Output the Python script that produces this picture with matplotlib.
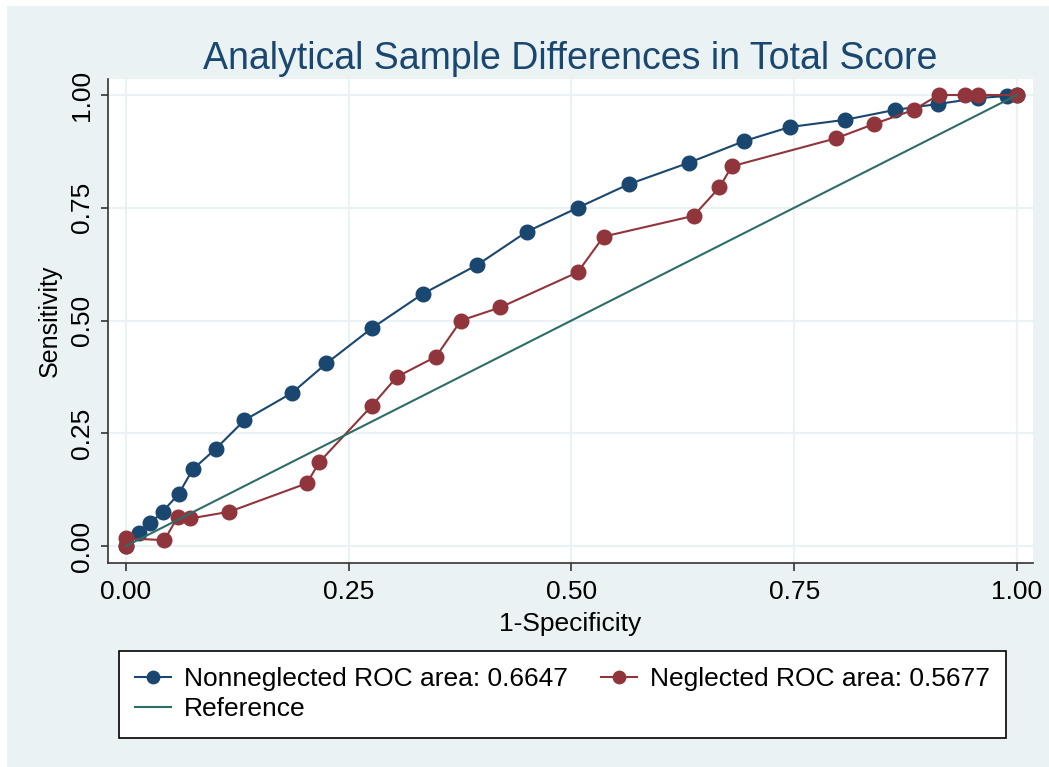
import matplotlib
matplotlib.use('Agg')
import matplotlib.pyplot as plt
from matplotlib.patches import Rectangle

# ROC data
nonneg_fpr = [0.0, 0.015, 0.027, 0.041, 0.059, 0.075, 0.101, 0.133, 0.186, 0.225,
              0.276, 0.333, 0.394, 0.450, 0.507, 0.564, 0.632, 0.694, 0.745, 0.807,
              0.863, 0.911, 0.956, 0.989, 1.0]
nonneg_tpr = [0.0, 0.029, 0.050, 0.076, 0.115, 0.170, 0.216, 0.279, 0.339, 0.405,
              0.483, 0.559, 0.623, 0.697, 0.750, 0.802, 0.850, 0.898, 0.929, 0.945,
              0.967, 0.980, 0.993, 0.998, 1.0]

neg_fpr = [0.0, 0.0, 0.043, 0.058, 0.072, 0.116, 0.203, 0.217, 0.276, 0.304,
           0.348, 0.376, 0.420, 0.507, 0.536, 0.637, 0.666, 0.680, 0.797, 0.840,
           0.884, 0.912, 0.942, 0.956, 1.0]
neg_tpr = [0.0, 0.017, 0.013, 0.064, 0.061, 0.076, 0.139, 0.186, 0.311, 0.375,
           0.420, 0.500, 0.529, 0.607, 0.686, 0.732, 0.795, 0.842, 0.904, 0.936,
           0.967, 1.0, 1.0, 1.0, 1.0]

ref_x = [0.0, 1.0]
ref_y = [0.0, 1.0]

ticks = [0.0, 0.25, 0.5, 0.75, 1.0]
tick_labels = ['0.00', '0.25', '0.50', '0.75', '1.00']

blue = '#1a476f'
red = '#90353b'
green = '#2d6d66'
bg = '#eaf2f3'

plt.rcParams['font.family'] = ['Liberation Sans', 'DejaVu Sans']

fig = plt.figure(figsize=(10.49, 7.67), dpi=100)
fig.patch.set_facecolor(bg)
# white strips at top and left (the source image is a crop)
fig.patches.append(Rectangle((0, 1 - 6 / 767), 1, 6 / 767, transform=fig.transFigure,
                             facecolor='white', edgecolor='none'))
fig.patches.append(Rectangle((0, 0), 7 / 1049, 1, transform=fig.transFigure,
                             facecolor='white', edgecolor='none'))

ax = fig.add_axes([108 / 1049, 1 - 563 / 767, (1033 - 108) / 1049, (563 - 79) / 767])
ax.set_facecolor('white')

ax.plot(nonneg_fpr, nonneg_tpr, color=blue, lw=1.5, marker='o', ms=10.5,
        label='Nonneglected ROC area: 0.6647', zorder=3)
ax.plot(neg_fpr, neg_tpr, color=red, lw=1.5, marker='o', ms=10.5,
        label='Neglected ROC area: 0.5677', zorder=4)
ax.plot(ref_x, ref_y, color=green, lw=1.5, label='Reference', zorder=5)

ax.set_xlim(-0.0202, 1.018)
ax.set_ylim(-0.0377, 1.0355)
ax.set_xticks(ticks)
ax.set_xticklabels(tick_labels)
ax.set_yticks(ticks)
ax.set_yticklabels(tick_labels, rotation=90, va='center')
ax.grid(True, color=bg, lw=1.6)
ax.set_axisbelow(True)

for s in ['top', 'right']:
    ax.spines[s].set_visible(False)
for s in ['left', 'bottom']:
    ax.spines[s].set_color('#333333')
    ax.spines[s].set_linewidth(1.2)

ax.tick_params(axis='x', length=6, width=1.2, color='#333333', labelsize=19, pad=6)
ax.tick_params(axis='y', length=5, width=1.2, color='#333333', labelsize=19, pad=5)

ax.set_xlabel('1-Specificity', fontsize=19, labelpad=6)
ax.set_ylabel('Sensitivity', fontsize=18, labelpad=6)
ax.set_title('Analytical Sample Differences in Total Score', fontsize=27,
             color=blue, pad=7)

h, l = ax.get_legend_handles_labels()
order = [0, 2, 1]
leg = fig.legend([h[i] for i in order], [l[i] for i in order], ncol=2,
                 loc='upper left', bbox_to_anchor=(119 / 1049, 1 - 651 / 767),
                 borderaxespad=0, markerscale=0.85,
                 fontsize=19, frameon=True, fancybox=False, edgecolor='black',
                 framealpha=1, facecolor='white',
                 handlelength=1.35, columnspacing=1.25, labelspacing=0.22,
                 borderpad=0.62, handletextpad=0.5)
leg.get_frame().set_linewidth(1.2)

fig.savefig('out.png', dpi=100, facecolor=fig.get_facecolor())
